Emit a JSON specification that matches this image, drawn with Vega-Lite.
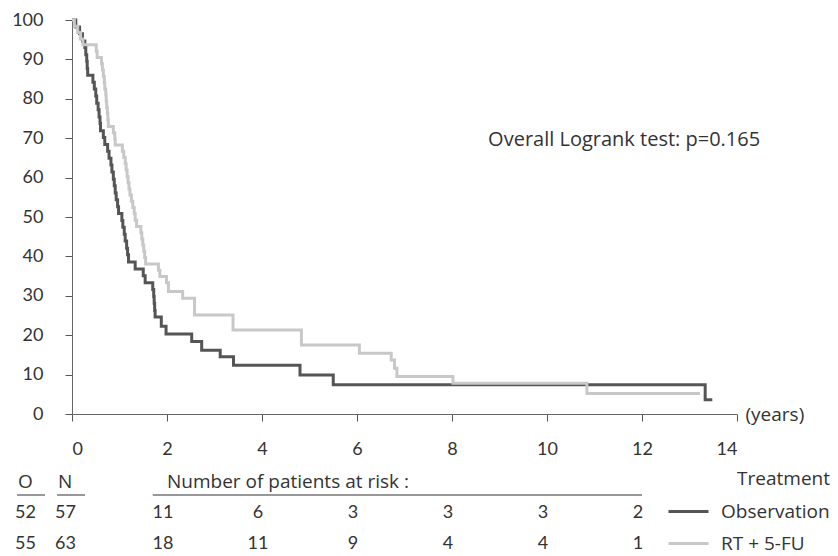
{
  "$schema": "https://vega.github.io/schema/vega-lite/v6.json",
  "width": 665,
  "height": 394,
  "autosize": {"type": "none"},
  "padding": {"left": 72, "top": 20, "right": 101, "bottom": 142},
  "background": "white",
  "config": {
    "view": {"stroke": null},
    "font": "Open Sans",
    "text": {"font": "Open Sans", "fontSize": 19, "color": "#333333"}
  },
  "datasets": {
    "survival": [
      {"group": "Observation", "t": 0, "s": 100},
      {"group": "Observation", "t": 0.08, "s": 98.2},
      {"group": "Observation", "t": 0.16, "s": 96.5},
      {"group": "Observation", "t": 0.22, "s": 94.7},
      {"group": "Observation", "t": 0.27, "s": 93.0},
      {"group": "Observation", "t": 0.29, "s": 91.2},
      {"group": "Observation", "t": 0.31, "s": 89.5},
      {"group": "Observation", "t": 0.32, "s": 87.7},
      {"group": "Observation", "t": 0.33, "s": 86.0},
      {"group": "Observation", "t": 0.44, "s": 84.2},
      {"group": "Observation", "t": 0.47, "s": 82.5},
      {"group": "Observation", "t": 0.50, "s": 80.7},
      {"group": "Observation", "t": 0.52, "s": 78.9},
      {"group": "Observation", "t": 0.55, "s": 77.2},
      {"group": "Observation", "t": 0.57, "s": 75.4},
      {"group": "Observation", "t": 0.59, "s": 73.7},
      {"group": "Observation", "t": 0.60, "s": 71.9},
      {"group": "Observation", "t": 0.66, "s": 70.2},
      {"group": "Observation", "t": 0.69, "s": 68.4},
      {"group": "Observation", "t": 0.75, "s": 66.7},
      {"group": "Observation", "t": 0.78, "s": 64.9},
      {"group": "Observation", "t": 0.82, "s": 63.2},
      {"group": "Observation", "t": 0.84, "s": 61.4},
      {"group": "Observation", "t": 0.87, "s": 59.6},
      {"group": "Observation", "t": 0.89, "s": 57.9},
      {"group": "Observation", "t": 0.91, "s": 56.1},
      {"group": "Observation", "t": 0.93, "s": 54.4},
      {"group": "Observation", "t": 0.96, "s": 52.6},
      {"group": "Observation", "t": 0.98, "s": 50.9},
      {"group": "Observation", "t": 1.05, "s": 49.1},
      {"group": "Observation", "t": 1.07, "s": 47.4},
      {"group": "Observation", "t": 1.10, "s": 45.6},
      {"group": "Observation", "t": 1.12, "s": 43.9},
      {"group": "Observation", "t": 1.15, "s": 42.1},
      {"group": "Observation", "t": 1.17, "s": 40.4},
      {"group": "Observation", "t": 1.19, "s": 38.6},
      {"group": "Observation", "t": 1.33, "s": 36.8},
      {"group": "Observation", "t": 1.50, "s": 35.1},
      {"group": "Observation", "t": 1.54, "s": 33.3},
      {"group": "Observation", "t": 1.70, "s": 31.6},
      {"group": "Observation", "t": 1.72, "s": 29.8},
      {"group": "Observation", "t": 1.73, "s": 28.1},
      {"group": "Observation", "t": 1.74, "s": 26.3},
      {"group": "Observation", "t": 1.75, "s": 24.6},
      {"group": "Observation", "t": 1.88, "s": 22.3},
      {"group": "Observation", "t": 1.98, "s": 20.3},
      {"group": "Observation", "t": 2.52, "s": 18.4},
      {"group": "Observation", "t": 2.73, "s": 16.2},
      {"group": "Observation", "t": 3.12, "s": 14.5},
      {"group": "Observation", "t": 3.40, "s": 12.4},
      {"group": "Observation", "t": 4.80, "s": 9.9},
      {"group": "Observation", "t": 5.50, "s": 7.4},
      {"group": "Observation", "t": 13.33, "s": 3.6},
      {"group": "Observation", "t": 13.48, "s": 3.6},
      {"group": "RT + 5-FU", "t": 0, "s": 100},
      {"group": "RT + 5-FU", "t": 0.05, "s": 98.4},
      {"group": "RT + 5-FU", "t": 0.12, "s": 96.8},
      {"group": "RT + 5-FU", "t": 0.18, "s": 95.2},
      {"group": "RT + 5-FU", "t": 0.23, "s": 93.7},
      {"group": "RT + 5-FU", "t": 0.51, "s": 92.1},
      {"group": "RT + 5-FU", "t": 0.53, "s": 90.5},
      {"group": "RT + 5-FU", "t": 0.62, "s": 88.9},
      {"group": "RT + 5-FU", "t": 0.64, "s": 87.3},
      {"group": "RT + 5-FU", "t": 0.66, "s": 85.7},
      {"group": "RT + 5-FU", "t": 0.68, "s": 84.1},
      {"group": "RT + 5-FU", "t": 0.69, "s": 82.5},
      {"group": "RT + 5-FU", "t": 0.71, "s": 81.0},
      {"group": "RT + 5-FU", "t": 0.72, "s": 79.4},
      {"group": "RT + 5-FU", "t": 0.73, "s": 77.8},
      {"group": "RT + 5-FU", "t": 0.745, "s": 76.2},
      {"group": "RT + 5-FU", "t": 0.755, "s": 74.6},
      {"group": "RT + 5-FU", "t": 0.765, "s": 73.0},
      {"group": "RT + 5-FU", "t": 0.87, "s": 71.4},
      {"group": "RT + 5-FU", "t": 0.90, "s": 69.8},
      {"group": "RT + 5-FU", "t": 0.91, "s": 68.3},
      {"group": "RT + 5-FU", "t": 1.06, "s": 66.7},
      {"group": "RT + 5-FU", "t": 1.09, "s": 65.1},
      {"group": "RT + 5-FU", "t": 1.12, "s": 63.5},
      {"group": "RT + 5-FU", "t": 1.14, "s": 61.9},
      {"group": "RT + 5-FU", "t": 1.16, "s": 60.3},
      {"group": "RT + 5-FU", "t": 1.18, "s": 58.7},
      {"group": "RT + 5-FU", "t": 1.20, "s": 57.1},
      {"group": "RT + 5-FU", "t": 1.22, "s": 55.6},
      {"group": "RT + 5-FU", "t": 1.25, "s": 54.0},
      {"group": "RT + 5-FU", "t": 1.28, "s": 52.4},
      {"group": "RT + 5-FU", "t": 1.31, "s": 50.8},
      {"group": "RT + 5-FU", "t": 1.33, "s": 49.2},
      {"group": "RT + 5-FU", "t": 1.36, "s": 47.6},
      {"group": "RT + 5-FU", "t": 1.45, "s": 46.0},
      {"group": "RT + 5-FU", "t": 1.47, "s": 44.4},
      {"group": "RT + 5-FU", "t": 1.49, "s": 42.9},
      {"group": "RT + 5-FU", "t": 1.51, "s": 41.3},
      {"group": "RT + 5-FU", "t": 1.53, "s": 39.7},
      {"group": "RT + 5-FU", "t": 1.55, "s": 38.1},
      {"group": "RT + 5-FU", "t": 1.82, "s": 36.5},
      {"group": "RT + 5-FU", "t": 1.85, "s": 34.9},
      {"group": "RT + 5-FU", "t": 1.99, "s": 33.3},
      {"group": "RT + 5-FU", "t": 2.03, "s": 31.1},
      {"group": "RT + 5-FU", "t": 2.33, "s": 29.4},
      {"group": "RT + 5-FU", "t": 2.58, "s": 25.1},
      {"group": "RT + 5-FU", "t": 3.39, "s": 21.3},
      {"group": "RT + 5-FU", "t": 4.83, "s": 17.5},
      {"group": "RT + 5-FU", "t": 6.05, "s": 15.4},
      {"group": "RT + 5-FU", "t": 6.72, "s": 13.7},
      {"group": "RT + 5-FU", "t": 6.79, "s": 11.6},
      {"group": "RT + 5-FU", "t": 6.84, "s": 9.5},
      {"group": "RT + 5-FU", "t": 8.02, "s": 7.8},
      {"group": "RT + 5-FU", "t": 10.84, "s": 5.2},
      {"group": "RT + 5-FU", "t": 13.22, "s": 5.2}
    ],
    "atrisk": [
      {"group": "Observation", "t": 2, "n": 11},
      {"group": "Observation", "t": 4, "n": 6},
      {"group": "Observation", "t": 6, "n": 3},
      {"group": "Observation", "t": 8, "n": 3},
      {"group": "Observation", "t": 10, "n": 3},
      {"group": "Observation", "t": 12, "n": 2},
      {"group": "RT + 5-FU", "t": 2, "n": 18},
      {"group": "RT + 5-FU", "t": 4, "n": 11},
      {"group": "RT + 5-FU", "t": 6, "n": 9},
      {"group": "RT + 5-FU", "t": 8, "n": 4},
      {"group": "RT + 5-FU", "t": 10, "n": 4},
      {"group": "RT + 5-FU", "t": 12, "n": 1}
    ],
    "totals": [
      {"group": "Observation", "col": "O", "n": 52},
      {"group": "Observation", "col": "N", "n": 57},
      {"group": "RT + 5-FU", "col": "O", "n": 55},
      {"group": "RT + 5-FU", "col": "N", "n": 63}
    ],
    "colheads": [
      {"group": "head", "col": "O"},
      {"group": "head", "col": "N"}
    ]
  },
  "layer": [
    {
      "layer": [
        {
          "data": {"name": "survival"},
          "mark": {"type": "line", "interpolate": "step-after", "strokeWidth": 3},
          "encoding": {
            "x": {
              "field": "t", "type": "quantitative",
              "scale": {"domain": [0, 14], "nice": false, "zero": false},
              "axis": {
                "values": [0, 2, 4, 6, 8, 10, 12, 14],
                "grid": false, "tickSize": 7, "labelPadding": 19,
                "labelFont": "Lato", "labelFontSize": 18, "labelColor": "#333333",
                "domainColor": "#666666", "tickColor": "#555555",
                "title": "(years)", "titleX": 673, "titleY": 0,
                "titleAlign": "left", "titleBaseline": "middle", "titleAngle": 0,
                "titleFont": "Open Sans", "titleFontSize": 19, "titleFontWeight": "normal", "titleColor": "#333333"
              }
            },
            "y": {
              "field": "s", "type": "quantitative",
              "scale": {"domain": [0, 100], "nice": false},
              "axis": {
                "values": [0, 10, 20, 30, 40, 50, 60, 70, 80, 90, 100],
                "labelOverlap": false,
                "grid": false, "tickSize": 7, "labelPadding": 22, "title": null,
                "labelFont": "Lato", "labelFontSize": 18, "labelColor": "#333333",
                "domainColor": "#666666", "tickColor": "#555555"
              }
            },
            "color": {
              "field": "group", "type": "nominal",
              "scale": {"domain": ["Observation", "RT + 5-FU"], "range": ["#555555", "#c8c8c8"]},
              "legend": {
                "orient": "none", "legendX": 595, "legendY": 450,
                "title": "Treatment", "titleAnchor": "end", "titleFont": "Open Sans",
                "titleFontSize": 19, "titleFontWeight": "normal", "titleColor": "#333333",
                "titlePadding": 1,
                "labelFont": "Open Sans", "labelFontSize": 19, "labelColor": "#333333",
                "symbolType": "stroke", "symbolSize": 1600, "symbolStrokeWidth": 3,
                "labelOffset": 11, "rowPadding": -19
              }
            }
          }
        },
        {
          "data": {"values": [{"label": "Overall Logrank test: p=0.165"}]},
          "mark": {"type": "text", "align": "left", "baseline": "middle", "fontSize": 20},
          "encoding": {
            "x": {
              "datum": 8.76, "type": "quantitative",
              "axis": {
                "values": [0, 2, 4, 6, 8, 10, 12, 14],
                "grid": false, "tickSize": 7, "labelPadding": 19,
                "labelFont": "Lato", "labelFontSize": 18, "labelColor": "#333333",
                "domainColor": "#666666", "tickColor": "#555555",
                "title": "(years)", "titleX": 673, "titleY": 0,
                "titleAlign": "left", "titleBaseline": "middle", "titleAngle": 0,
                "titleFont": "Open Sans", "titleFontSize": 19, "titleFontWeight": "normal", "titleColor": "#333333"
              }
            },
            "y": {
              "datum": 69.5, "type": "quantitative",
              "axis": {
                "values": [0, 10, 20, 30, 40, 50, 60, 70, 80, 90, 100],
                "labelOverlap": false,
                "grid": false, "tickSize": 7, "labelPadding": 22, "title": null,
                "labelFont": "Lato", "labelFontSize": 18, "labelColor": "#333333",
                "domainColor": "#666666", "tickColor": "#555555"
              }
            },
            "text": {"field": "label"}
          }
        }
      ]
    },
    {
      "layer": [
        {
          "data": {"name": "atrisk"},
          "mark": {"type": "text", "align": "center", "baseline": "middle", "dx": -4, "font": "Lato", "fontSize": 18},
          "encoding": {
            "x": {"field": "t", "type": "quantitative", "scale": {"domain": [0, 14], "nice": false, "zero": false}, "axis": null},
            "y": {"field": "group", "type": "nominal", "scale": {"type": "point", "domain": ["head", "Observation", "RT + 5-FU"], "range": [462, 524], "padding": 0}, "axis": null},
            "text": {"field": "n"}
          }
        },
        {
          "data": {"values": [{"group": "head", "label": "Number of patients at risk :"}]},
          "mark": {"type": "text", "align": "left", "baseline": "middle"},
          "encoding": {
            "x": {"datum": 2, "type": "quantitative"},
            "y": {"field": "group", "type": "nominal"},
            "text": {"field": "label"}
          }
        },
        {
          "data": {"values": [{"group": "head"}]},
          "mark": {"type": "rule", "color": "#333333", "strokeWidth": 1, "yOffset": 13},
          "encoding": {
            "x": {"datum": 1.7, "type": "quantitative"},
            "x2": {"datum": 12},
            "y": {"field": "group", "type": "nominal"}
          }
        }
      ]
    },
    {
      "layer": [
        {
          "data": {"name": "totals"},
          "mark": {"type": "text", "align": "left", "baseline": "middle", "font": "Lato", "fontSize": 18},
          "encoding": {
            "x": {"field": "col", "type": "nominal", "scale": {"type": "point", "domain": ["O", "N"], "range": [-57, -17], "padding": 0}, "axis": null},
            "y": {"field": "group", "type": "nominal", "scale": {"type": "point", "domain": ["head", "Observation", "RT + 5-FU"], "range": [462, 524], "padding": 0}, "axis": null},
            "text": {"field": "n"}
          }
        },
        {
          "data": {"name": "colheads"},
          "mark": {"type": "text", "align": "left", "baseline": "middle", "dx": 3},
          "encoding": {
            "x": {"field": "col", "type": "nominal"},
            "y": {"field": "group", "type": "nominal"},
            "text": {"field": "col"}
          }
        },
        {
          "data": {"name": "colheads"},
          "mark": {"type": "rule", "color": "#333333", "strokeWidth": 1, "yOffset": 13, "xOffset": 2, "x2Offset": 30},
          "encoding": {
            "x": {"field": "col", "type": "nominal"},
            "x2": {"field": "col"},
            "y": {"field": "group", "type": "nominal"}
          }
        }
      ]
    }
  ],
  "resolve": {"scale": {"x": "independent", "y": "independent"}}
}
